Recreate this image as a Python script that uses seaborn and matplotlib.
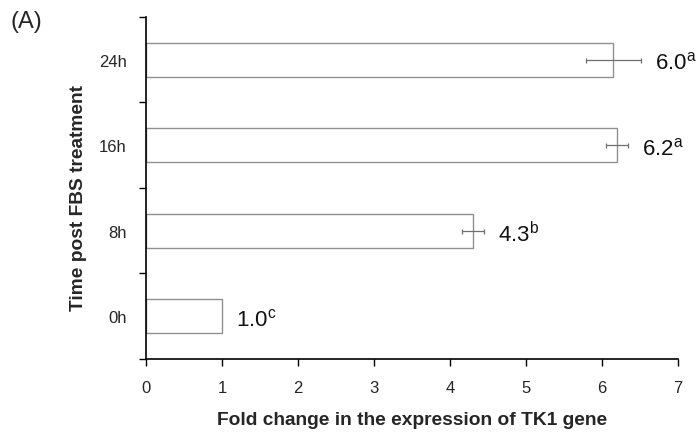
import matplotlib
matplotlib.use("Agg")
import matplotlib.pyplot as plt
from matplotlib.ticker import FixedLocator
import seaborn as sns
import pandas as pd

# Fold change of TK1 expression after FBS treatment
times = ["24h", "16h", "8h", "0h"]
fold_change = [6.15, 6.20, 4.30, 1.00]
std_err = [0.36, 0.145, 0.145, 0.0]
value_labels = ["6.0", "6.2", "4.3", "1.0"]
letters = ["a", "a", "b", "c"]

df = pd.DataFrame({"Time": times, "Fold": fold_change})

sns.set_theme(style="white")
plt.rcParams["font.family"] = ["Liberation Sans", "DejaVu Sans"]
plt.rcParams["mathtext.fontset"] = "custom"
plt.rcParams["mathtext.rm"] = "Liberation Sans"

fig = plt.figure(figsize=(7, 4.39), dpi=100)
ax = fig.add_axes([146 / 700, 0.18, 532 / 700, 0.779])

sns.barplot(data=df, x="Fold", y="Time", order=times, orient="h",
            color="white", edgecolor="#909090", linewidth=1.0, width=0.40,
            errorbar=None, ax=ax)

# error bars (0h has none)
for i, (v, e) in enumerate(zip(fold_change, std_err)):
    if e > 0:
        ax.errorbar(v, i, xerr=e, fmt="none", ecolor="#6f6f6f",
                    elinewidth=0.9, capsize=1.8, capthick=0.9)

# value labels with significance letters
for i, (v, e) in enumerate(zip(fold_change, std_err)):
    txt = value_labels[i] + r"$^{\mathregular{" + letters[i] + "}}$"
    ax.annotate(txt, xy=(v + e, i), xytext=(10, -2), textcoords="offset points",
                ha="left", va="center", fontsize=16, color="#111111")

ax.set_xlim(0, 7)
ax.set_ylim(3.5, -0.5)
ax.set_xticks(range(0, 8))
ax.tick_params(axis="x", direction="out", length=5, width=1, color="black",
               labelsize=12, pad=10, bottom=True)
ax.yaxis.set_minor_locator(FixedLocator([-0.5, 0.5, 1.5, 2.5, 3.5]))
ax.tick_params(axis="y", which="major", length=0, labelsize=12, pad=14)
ax.tick_params(axis="y", which="minor", direction="out", length=5, width=1,
               color="black", left=True)

for s in ["top", "right"]:
    ax.spines[s].set_visible(False)
for s in ["left", "bottom"]:
    ax.spines[s].set_color("black")
    ax.spines[s].set_linewidth(1.2)

ax.set_xlabel("Fold change in the expression of TK1 gene", fontsize=13.8,
              fontweight="bold", labelpad=12)
ax.set_ylabel("Time post FBS treatment", fontsize=13.8, fontweight="bold")
ax.yaxis.set_label_coords(-0.111, 0.474)

fig.text(10 / 700, 1 - 22 / 439, "(A)", fontsize=17, ha="left", va="center")

fig.savefig("out.png", dpi=100)
